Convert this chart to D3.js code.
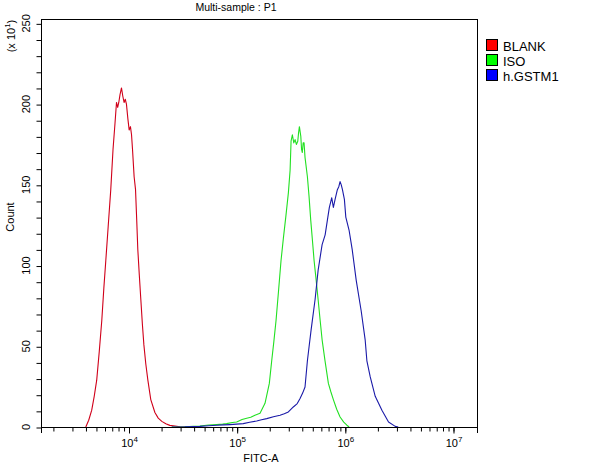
<!DOCTYPE html>
<html>
<head>
<meta charset="utf-8">
<script src="https://cdn.jsdelivr.net/npm/d3@7"></script>
<style>
  html, body { margin: 0; padding: 0; background: #fff; }
  svg { display: block; font-family: "Liberation Sans", Arial, sans-serif; }
</style>
</head>
<body>
<svg id="chart" width="613" height="466"></svg>
<script>
// ---- data (FITC-A as log10 exponent, Count in units of 10^1) ----
const seriesNames = ["BLANK", "ISO", "h.GSTM1"];
const seriesColors = ["#d0001a", "#22e022", "#1a1aa8"];
const legendColors = ["#ff0000", "#00ff00", "#0000ff"];

const blankLog = [3.605,3.632,3.660,3.683,3.706,3.730,3.753,3.772,3.790,3.812,3.836,3.857,3.875,3.889,3.900,3.910,3.922,3.935,3.947,3.959,3.970,3.981,3.994,4.006,4.018,4.028,4.037,4.052,4.065,4.076,4.086,4.100,4.114,4.128,4.142,4.160,4.179,4.206,4.244,4.275,4.308,4.345,4.382,4.430,4.475,4.570];
const blankCnt = [0,4.2,10.4,19,29,47,66,86,103,124,147,172,188,201,198,201,206,210,205,201,203,200,191,184,186,181,172,155,147,128,110,94,79,64,51,39,29,17,9,5.5,3.5,2,1,0.6,0.1,0];

const isoLog = [4.40,4.521,4.60,4.660,4.74,4.815,4.87,4.907,4.96,5.000,5.05,5.093,5.130,5.169,5.216,5.262,5.302,5.324,5.344,5.364,5.388,5.410,5.432,5.454,5.478,5.494,5.503,5.515,5.528,5.540,5.552,5.565,5.572,5.580,5.593,5.600,5.607,5.615,5.623,5.632,5.654,5.669,5.685,5.700,5.716,5.735,5.753,5.772,5.790,5.817,5.848,5.870,5.894,5.925,5.956,5.990,6.019,6.040];
const isoCnt = [0,0.2,0.5,0.6,1.2,1.5,1.8,2.1,2.8,3.1,4.6,5.4,6.0,7.3,8.5,14.7,27,41,53,66,85,103,117,130,145,159,177,181,176,178,175,177,182,186,180,172,170,176,176,167,155,143,128,116,103,91,79,66,54,41,27,22,17,11,6.2,3.0,1.1,0];

const gstmLog = [4.40,4.521,4.60,4.660,4.74,4.815,4.88,4.938,5.000,5.061,5.12,5.185,5.230,5.278,5.340,5.401,5.440,5.478,5.524,5.560,5.586,5.610,5.632,5.654,5.670,5.688,5.725,5.753,5.790,5.818,5.843,5.857,5.868,5.879,5.894,5.910,5.931,5.945,5.956,5.967,5.978,5.996,6.009,6.039,6.068,6.105,6.151,6.188,6.204,6.235,6.281,6.343,6.404,6.466,6.494];
const gstmCnt = [0,0.1,0.3,0.4,0.8,1.1,1.3,1.5,1.8,2.1,2.9,3.7,4.5,5.2,6.4,7.3,8.2,9.3,12.4,14.5,17.6,21,24.8,41,50,60,79,97,113,119,130,136,139,142,136,141,147,149,152,150,147,141,130,122,110,91,72,54,41,31,19,10.4,3.1,0.4,0];

const seriesLog = [blankLog, isoLog, gstmLog];
const seriesCnt = [blankCnt, isoCnt, gstmCnt];

const xDomainExp = [3.191, 7.222];
const yDomain = [0, 252.7];
const yMajorTicks = [0, 50, 100, 150, 200, 250];
const xMajorExps = [4, 5, 6, 7];

const titleText = "Multi-sample : P1";
const xLabel = "FITC-A";
const yLabel = "Count";

// ---- layout ----
const svg = d3.select("#chart");
const L = 41, R = 477, T = 19, B = 427;

const x = d3.scaleLog().domain(xDomainExp.map(e => Math.pow(10, e))).range([L, R]);
const y = d3.scaleLinear().domain(yDomain).range([B, T]);

// curves
const line = d3.line()
  .x(d => x(Math.pow(10, d[0])))
  .y(d => y(d[1]));

seriesLog.forEach((lg, i) => {
  const pts = lg.map((v, j) => [v, seriesCnt[i][j]]);
  svg.append("path")
    .attr("d", line(pts))
    .attr("fill", "none")
    .attr("stroke", seriesColors[i])
    .attr("stroke-width", 1.1)
    .attr("stroke-linejoin", "round");
});

// frame
svg.append("rect")
  .attr("x", L + 0.5).attr("y", T + 0.5)
  .attr("width", R - L).attr("height", B - T)
  .attr("fill", "none").attr("stroke", "#000").attr("stroke-width", 1);

// y axis ticks
const yMinor = d3.range(0, 251, 10);
const yAxis = d3.axisLeft(y).tickValues(yMinor).tickSize(5).tickFormat("");
const gy = svg.append("g").attr("transform", `translate(${L + 0.5},0.5)`).call(yAxis);
gy.select(".domain").remove();
gy.selectAll("line").attr("stroke", "#000");

yMajorTicks.forEach(v => {
  svg.append("text")
    .attr("transform", `translate(30,${y(v)}) rotate(-90)`)
    .attr("text-anchor", "middle")
    .attr("font-size", 11)
    .attr("fill", "#000")
    .text(v);
});

// x axis ticks
const xMinorVals = [];
for (let e = 3; e <= 7; e++) {
  for (let m = 1; m <= 9; m++) {
    const v = m * Math.pow(10, e);
    if (v >= x.domain()[0] && v <= x.domain()[1]) xMinorVals.push(v);
  }
}
const xAxisMinor = d3.axisBottom(x).tickValues(xMinorVals).tickSize(4).tickFormat("");
const gx = svg.append("g").attr("transform", `translate(0.5,${B + 0.5})`).call(xAxisMinor);
gx.select(".domain").remove();
gx.selectAll("line").attr("stroke", "#000");

const xAxisMajor = d3.axisBottom(x).tickValues(xMajorExps.map(e => Math.pow(10, e))).tickSize(6).tickFormat("");
const gx2 = svg.append("g").attr("transform", `translate(0.5,${B + 0.5})`).call(xAxisMajor);
gx2.select(".domain").remove();
gx2.selectAll("line").attr("stroke", "#000");

// end ticks
[L, R].forEach(px => {
  svg.append("line").attr("x1", px + 0.5).attr("x2", px + 0.5)
    .attr("y1", B).attr("y2", B + 6).attr("stroke", "#000");
});

xMajorExps.forEach(e => {
  const t = svg.append("text")
    .attr("x", x(Math.pow(10, e)) + 1)
    .attr("y", 447)
    .attr("text-anchor", "middle")
    .attr("font-size", 11)
    .attr("fill", "#000");
  t.append("tspan").text("10");
  t.append("tspan").attr("dy", -5).attr("font-size", 8).text(e);
});

// axis labels
svg.append("text")
  .attr("x", 261).attr("y", 462)
  .attr("text-anchor", "middle")
  .attr("font-size", 11)
  .text(xLabel);

svg.append("text")
  .attr("transform", "translate(14,217) rotate(-90)")
  .attr("text-anchor", "middle")
  .attr("font-size", 11)
  .text(yLabel);

const mult = svg.append("text")
  .attr("transform", "translate(15,36) rotate(-90)")
  .attr("text-anchor", "middle")
  .attr("font-size", 11);
mult.append("tspan").text("(x 10");
mult.append("tspan").attr("dy", -5).attr("font-size", 8).text("1");
mult.append("tspan").attr("dy", 5).text(")");

// title
svg.append("text")
  .attr("x", 236).attr("y", 11)
  .attr("text-anchor", "middle")
  .attr("font-size", 10.5)
  .text(titleText);

// legend
seriesNames.forEach((name, i) => {
  const yy = 39 + i * 15;
  svg.append("rect")
    .attr("x", 486.5).attr("y", yy + 0.5)
    .attr("width", 11).attr("height", 11)
    .attr("fill", legendColors[i])
    .attr("stroke", "#000").attr("stroke-width", 1);
  svg.append("text")
    .attr("x", 503).attr("y", yy + 11.5)
    .attr("font-size", 13)
    .text(name);
});
</script>
</body>
</html>
